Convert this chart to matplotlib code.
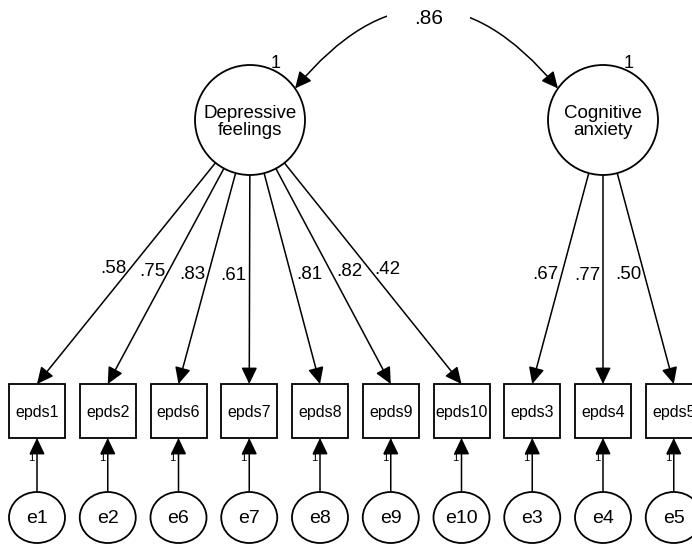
import numpy as np
import matplotlib.pyplot as plt
from matplotlib.patches import Circle, Ellipse, Rectangle, FancyArrowPatch

plt.rcParams['font.family'] = ['Liberation Sans', 'DejaVu Sans']

# model values
factors = ['Depressive\nfeelings', 'Cognitive\nanxiety']
factor_variance = [1, 1]
correlation = 0.86
indicators = ['epds1', 'epds2', 'epds6', 'epds7', 'epds8', 'epds9', 'epds10',
              'epds3', 'epds4', 'epds5']
errors = ['e1', 'e2', 'e6', 'e7', 'e8', 'e9', 'e10', 'e3', 'e4', 'e5']
loadings = [0.58, 0.75, 0.83, 0.61, 0.81, 0.82, 0.42, 0.67, 0.77, 0.50]
factor_of = [0, 0, 0, 0, 0, 0, 0, 1, 1, 1]

# layout (pixel coords, y down)
factor_xy = [(250, 120), (603, 120)]
factor_r = 55
box_x = 37 + 70.75 * np.arange(len(indicators))
box_top, box_h, box_w = 384, 54, 56
err_y, err_w, err_h = 517.5, 56, 51
label_side = [-1, -1, -1, -1, 1, 1, 1, -1, -1, -1]

fig = plt.figure(figsize=(6.92, 5.47), dpi=100)
ax = fig.add_axes([0, 0, 1, 1])
ax.set_xlim(0, 692)
ax.set_ylim(547, 0)
ax.axis('off')

def arrow(p0, p1, style='-|>', conn=None):
    a = FancyArrowPatch(p0, p1, arrowstyle=style + ',head_length=1.0,head_width=0.48',
                        mutation_scale=10, shrinkA=0, shrinkB=0, lw=1.1,
                        color='black', connectionstyle=conn, zorder=2)
    ax.add_patch(a)

# latent factors
for (cx, cy), name, var in zip(factor_xy, factors, factor_variance):
    ax.add_patch(Circle((cx, cy), factor_r, fc='white', ec='black', lw=1.3, zorder=3))
    ax.text(cx, cy + 2, name, ha='center', va='center', fontsize=13.5,
            linespacing=0.95, zorder=4)
    ax.text(cx + 26, cy - 57, str(var), ha='center', va='center', fontsize=13)

# covariance between the factors
ang = np.radians(35)
pa = (factor_xy[0][0] + factor_r * np.cos(ang), factor_xy[0][1] - factor_r * np.sin(ang))
pb = (factor_xy[1][0] - factor_r * np.cos(ang), factor_xy[1][1] - factor_r * np.sin(ang))
arrow(pa, pb, style='<|-|>', conn='arc3,rad=-0.6')
ax.text((pa[0] + pb[0]) / 2 + 2, 19, f'{correlation:.2f}'[1:], ha='center', va='center',
        fontsize=15, zorder=5,
        bbox=dict(boxstyle='square,pad=1.3', fc='white', ec='none'))

# indicators, loadings and error terms
for i, (x, ind, err, lam, f) in enumerate(zip(box_x, indicators, errors, loadings, factor_of)):
    cx, cy = factor_xy[f]
    d = np.array([x - cx, box_top - cy])
    u = d / np.hypot(*d)
    start = (cx + factor_r * u[0], cy + factor_r * u[1])
    arrow(start, (x, box_top))

    t = 0.48
    lx = start[0] + t * (x - start[0])
    ly = start[1] + t * (box_top - start[1])
    if label_side[i] < 0:
        ax.text(lx - 3, ly, f'{lam:.2f}'[1:], ha='right', va='center', fontsize=13.5)
    else:
        ax.text(lx + 5, ly, f'{lam:.2f}'[1:], ha='left', va='center', fontsize=13.5)

    ax.add_patch(Rectangle((x - box_w / 2, box_top), box_w, box_h, fc='white',
                           ec='black', lw=1.3, zorder=3))
    ax.text(x, box_top + box_h / 2 + 1, ind, ha='center', va='center', fontsize=11.5, zorder=4)

    ax.add_patch(Ellipse((x, err_y), err_w, err_h, fc='white', ec='black', lw=1.3, zorder=3))
    ax.text(x, err_y + 1, err, ha='center', va='center', fontsize=14, zorder=4)
    arrow((x, err_y - err_h / 2), (x, box_top + box_h))
    ax.text(x - 6, 458, '1', ha='center', va='center', fontsize=8)

plt.savefig('out.png', dpi=100)
